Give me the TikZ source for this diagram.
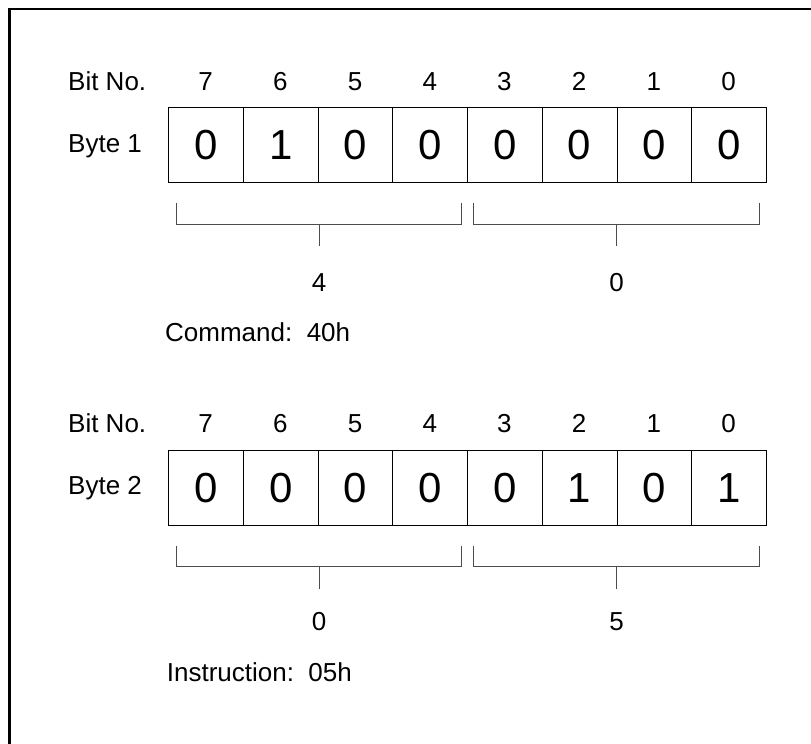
\documentclass[tikz,border=0pt]{standalone}
\usepackage{fontspec}
\setmainfont{Liberation Sans}
\begin{document}
\begin{tikzpicture}[x=1pt,y=-1pt,
  lbl/.style={font=\fontsize{26}{30}\selectfont, inner sep=0pt},
  cell/.style={draw=black, line width=1pt, minimum width=74.7pt, minimum height=75pt, inner sep=0pt, anchor=north west, font=\fontsize{42}{48}\selectfont},
  brk/.style={draw=black!70, line width=1pt},
  frame/.style={draw=black, line width=2.4pt}]
\useasboundingbox (0,0) rectangle (811,744);
\draw[frame] (9.5,9) rectangle (840,780);

% ---------- Byte 1 ----------
\node[lbl, anchor=base west] (bitno1) at (68,90) {Bit No.};
\node[lbl, anchor=base west] (byte1) at (68,152) {Byte 1};
\foreach \v [count=\i from 0] in {0,1,0,0,0,0,0,0} {
  \pgfmathtruncatemacro\bit{7-\i}
  \node[cell] (a\i) at ({168.3+74.7*\i},107.3) {\v};
  \node[lbl, anchor=base] (an\i) at ({168.3+74.7*\i+37.35},90) {\bit};
}
\coordinate (h1l) at (176,203.3);
\coordinate (h1r) at (461.7,203.3);
\coordinate (h2l) at (473.3,203.3);
\coordinate (h2r) at (759,203.3);
\draw[brk] (h1l) -- ++(0,21) -| (h1r);
\draw[brk] (h2l) -- ++(0,21) -| (h2r);
\coordinate (t1) at (319,224.3);
\coordinate (t2) at (616.5,224.3);
\draw[brk] (t1) -- ++(0,22);
\draw[brk] (t2) -- ++(0,22);
\node[lbl, anchor=base] (v1) at (319,291.7) {4};
\node[lbl, anchor=base] (v2) at (616.5,291.7) {0};
\node[lbl, anchor=base west] (cmd) at (165,341.7) {Command:\ \ 40h};

% ---------- Byte 2 ----------
\node[lbl, anchor=base west] (bitno2) at (68,432.5) {Bit No.};
\node[lbl, anchor=base west] (byte2) at (68,494.5) {Byte 2};
\foreach \v [count=\i from 0] in {0,0,0,0,0,1,0,1} {
  \pgfmathtruncatemacro\bit{7-\i}
  \node[cell] (b\i) at ({168.3+74.7*\i},450) {\v};
  \node[lbl, anchor=base] (bn\i) at ({168.3+74.7*\i+37.35},432.5) {\bit};
}
\coordinate (k1l) at (176,545.5);
\coordinate (k1r) at (461.7,545.5);
\coordinate (k2l) at (473.3,545.5);
\coordinate (k2r) at (759,545.5);
\draw[brk] (k1l) -- ++(0,21) -| (k1r);
\draw[brk] (k2l) -- ++(0,21) -| (k2r);
\coordinate (s1) at (319,566.5);
\coordinate (s2) at (616.5,566.5);
\draw[brk] (s1) -- ++(0,22);
\draw[brk] (s2) -- ++(0,22);
\node[lbl, anchor=base] (w1) at (319,630.7) {0};
\node[lbl, anchor=base] (w2) at (616.5,630.7) {5};
\node[lbl, anchor=base west] (ins) at (166.7,681.7) {Instruction:\ \ 05h};
\end{tikzpicture}
\end{document}
